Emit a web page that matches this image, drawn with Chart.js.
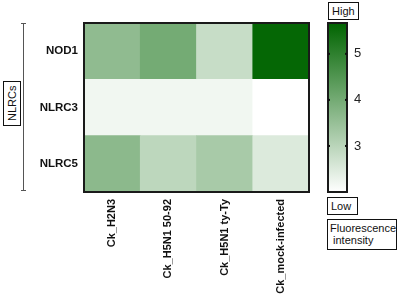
<!DOCTYPE html>
<html>
<head>
<meta charset="utf-8">
<script src="https://cdn.jsdelivr.net/npm/chart.js@4"></script>
<style>
  body { margin: 0; background: #fff; font-family: 'Liberation Sans', Arial, sans-serif; }
  #wrap { position: relative; width: 400px; height: 295px; overflow: hidden; }
  canvas { position: absolute; top: 0; }
  #main { left: 0; }
  #bar { left: 320px; }
  .box { position: absolute; border: 1.5px solid #111; background: #fff; font-size: 11px; color: #111; box-sizing: border-box; line-height: 12px; }
  #side { position: absolute; left: 23px; top: 23px; width: 1px; height: 168px; background: #555; }
  .cap { position: absolute; left: 21px; width: 5px; height: 1px; background: #555; }
</style>
</head>
<body>
<div id="wrap">
  <canvas id="main" width="400" height="295"></canvas>
  <canvas id="bar" width="80" height="295"></canvas>
  <div id="side"></div>
  <div class="cap" style="top:23px"></div>
  <div class="cap" style="top:190px"></div>
  <div class="box" style="left:3px;top:81px;width:18px;height:45px;">
    <div style="writing-mode:vertical-rl;transform:rotate(180deg);height:43px;width:15px;display:flex;align-items:center;justify-content:center;">NLRCs</div>
  </div>
  <div class="box" style="left:328px;top:2px;width:31px;height:18px;padding:2px 0 0 3px;">High</div>
  <div class="box" style="left:327px;top:197px;width:31px;height:18px;padding:2px 0 0 3px;">Low</div>
  <div class="box" style="left:327px;top:219px;width:70px;height:31px;padding:2px 0 0 2px;">Fluorescence<br>&nbsp;intensity</div>
</div>
<script>
const rowNames = ['NOD1', 'NLRC3', 'NLRC5'];
const colNames = ['Ck_H2N3', 'Ck_H5N1 50-92', 'Ck_H5N1 ty-Ty', 'Ck_mock-infected'];
const nod1 = [3.6, 4.0, 2.8, 5.6];
const nlrc3 = [2.2, 2.2, 2.2, 2.0];
const nlrc5 = [3.65, 2.95, 3.25, 2.5];
const scaleMin = 2.0, scaleMax = 5.67;
const barTicks = [3, 4, 5];

const FONT = "'Liberation Sans', Arial, sans-serif";

function colorFor(v) {
  let t = (v - scaleMin) / (scaleMax - scaleMin);
  t = Math.max(0, Math.min(1, t));
  const r = Math.round(255 - t * 255);
  const g = Math.round(255 - t * 155);
  return 'rgb(' + r + ',' + g + ',' + r + ')';
}

const frame = {
  id: 'frame',
  afterDatasetsDraw(chart) {
    const a = chart.chartArea, ctx = chart.ctx;
    ctx.save();
    ctx.strokeStyle = '#1a1a1a';
    ctx.lineWidth = 2;
    ctx.strokeRect(a.left, a.top, a.right - a.left, a.bottom - a.top);
    ctx.restore();
  }
};

// rows bottom-up for stacking
const rowData = [nlrc5, nlrc3, nod1];
new Chart(document.getElementById('main'), {
  type: 'bar',
  data: {
    labels: colNames,
    datasets: rowData.map(vals => ({
      data: vals.map(() => 1),
      backgroundColor: vals.map(colorFor),
      borderWidth: 0,
      barPercentage: 1,
      categoryPercentage: 1
    }))
  },
  options: {
    responsive: false,
    animation: false,
    layout: { padding: { top: 23, right: 91, left: 0, bottom: 0 } },
    plugins: { legend: { display: false }, tooltip: { enabled: false } },
    scales: {
      x: {
        stacked: true,
        grid: { display: false, drawTicks: false },
        border: { display: false },
        ticks: { color: '#111', font: { family: FONT, size: 11, weight: 'bold' }, minRotation: 90, maxRotation: 90, padding: 7 },
        afterFit(s) { s.height = 103; }
      },
      y: {
        stacked: true,
        min: 0, max: 3,
        grid: { display: false, drawTicks: false },
        border: { display: false },
        afterBuildTicks(s) { s.ticks = [{ value: 0.5 }, { value: 1.5 }, { value: 2.5 }]; },
        ticks: {
          color: '#111', font: { family: FONT, size: 11.5, weight: 'bold' }, padding: 6,
          callback: v => rowNames[2 - Math.floor(v)]
        },
        afterFit(s) { s.width = 84; }
      }
    }
  },
  plugins: [frame]
});

const barMarks = {
  id: 'barMarks',
  afterDatasetsDraw(chart) {
    const a = chart.chartArea, ctx = chart.ctx, y = chart.scales.y;
    ctx.save();
    ctx.fillStyle = '#111';
    barTicks.forEach(t => {
      const py = y.getPixelForValue(t);
      ctx.fillRect(a.left, py - 1, 2, 2);
      ctx.fillRect(a.right - 2, py - 1, 2, 2);
    });
    ctx.restore();
  }
};

new Chart(document.getElementById('bar'), {
  type: 'bar',
  data: {
    labels: [''],
    datasets: [{
      data: [[scaleMin, scaleMax]],
      backgroundColor(c) {
        const a = c.chart.chartArea;
        if (!a) return '#fff';
        const g = c.chart.ctx.createLinearGradient(0, a.bottom, 0, a.top);
        g.addColorStop(0, colorFor(scaleMin));
        g.addColorStop(1, colorFor(scaleMax));
        return g;
      },
      borderWidth: 0,
      barPercentage: 1,
      categoryPercentage: 1
    }]
  },
  options: {
    responsive: false,
    animation: false,
    layout: { padding: { top: 23, bottom: 103, left: 8, right: 0 } },
    plugins: { legend: { display: false }, tooltip: { enabled: false } },
    scales: {
      x: { display: false },
      y: {
        position: 'right',
        min: scaleMin, max: scaleMax,
        grid: { display: false, drawTicks: false },
        border: { display: false },
        afterBuildTicks(s) { s.ticks = barTicks.map(v => ({ value: v })); },
        ticks: { color: '#222', font: { family: FONT, size: 13 }, padding: 7 },
        afterFit(s) { s.width = 53; }
      }
    }
  },
  plugins: [frame, barMarks]
});
</script>
</body>
</html>
